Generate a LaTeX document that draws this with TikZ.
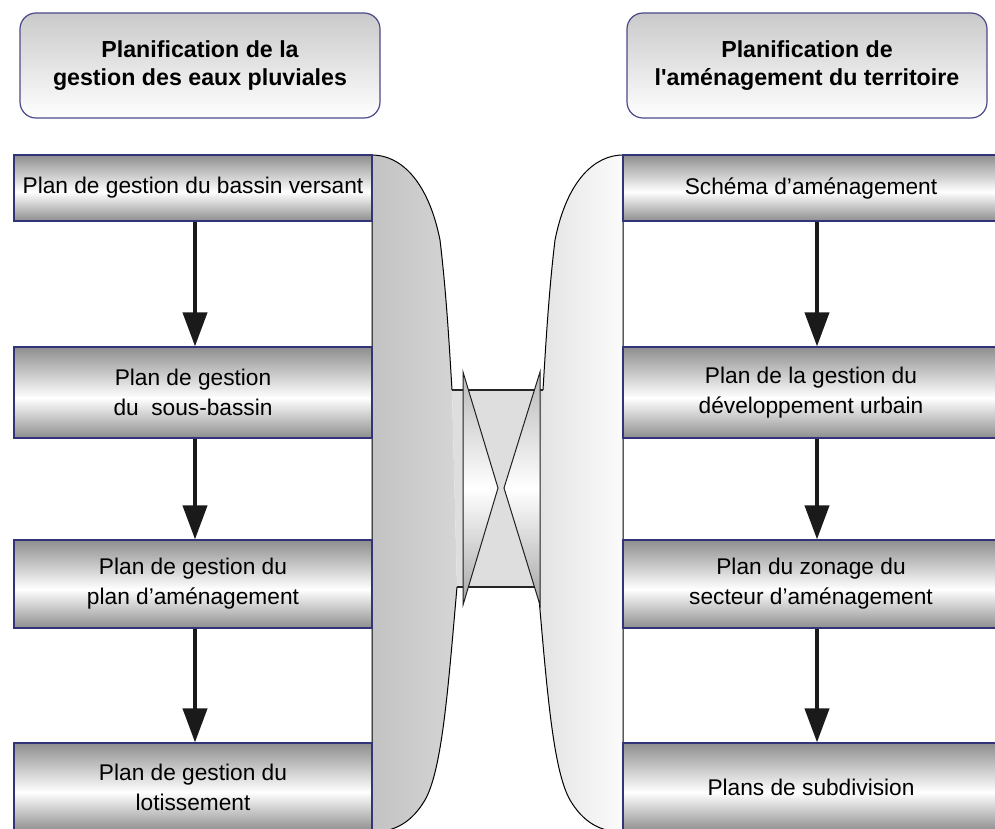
\documentclass[tikz,border=0pt]{standalone}
\usepackage{fontspec}
\setmainfont{Liberation Sans}
\usetikzlibrary{arrows.meta}
\definecolor{box frame}{HTML}{33337A}
\definecolor{head frame}{HTML}{4A4A8A}
\definecolor{tube gray}{HTML}{8E8E8E}
\definecolor{left panel a}{HTML}{C3C3C3}
\definecolor{left panel b}{HTML}{D5D5D5}
\definecolor{right panel a}{HTML}{E3E3E3}
\definecolor{right panel b}{HTML}{FBFBFB}
\definecolor{arrow black}{HTML}{1A1A1A}
\pgfdeclareverticalshading{my tube}{100bp}{color(0bp)=(tube gray); color(25bp)=(tube gray);
  color(47bp)=(white); color(75bp)=(tube gray); color(100bp)=(tube gray)}
\def\boxfont{\fontsize{11.35}{15}\selectfont}
\def\headfont{\fontsize{11.6}{14}\selectfont\bfseries}
\tikzset{
  my box/.style={draw=box frame,line width=0.6pt,shading=my tube,inner sep=0pt,
    align=center,font=\boxfont},
  my head/.style={draw=head frame,line width=0.6pt,rounded corners=8pt,top color=gray!42,
    bottom color=white,minimum width=180pt,minimum height=52.5pt,align=center,font=\headfont},
  my arrow/.style={line width=2pt,draw=arrow black,-{Triangle[length=17pt,width=12pt]}}
}

\begin{document}
\begin{tikzpicture}[x=0.5pt,y=-0.5pt]
\useasboundingbox (0,0) rectangle (995,829);
\clip (0,0) rectangle (995,829);
% side panels
\shade[left color=left panel a,right color=left panel b]
  (457,587) .. controls (448,690) and (442,770) .. (425,800)
  .. controls (412,822) and (395,832) .. (372,832) -- (372,155)
  .. controls (400,155) and (428,180) .. (440,240)
  .. controls (446,290) and (449,340) .. (452,390);
\draw[line width=0.5pt]
  (457,587) .. controls (448,690) and (442,770) .. (425,800)
  .. controls (412,822) and (395,832) .. (372,832) -- (372,155)
  .. controls (400,155) and (428,180) .. (440,240)
  .. controls (446,290) and (449,340) .. (452,390);
\shade[left color=right panel a,right color=right panel b]
  (538,587) .. controls (547,690) and (553,770) .. (570,800)
  .. controls (583,822) and (600,832) .. (623,832) -- (623,155)
  .. controls (595,155) and (567,180) .. (555,240)
  .. controls (549,290) and (546,340) .. (543,390);
\draw[line width=0.5pt]
  (538,587) .. controls (547,690) and (553,770) .. (570,800)
  .. controls (583,822) and (600,832) .. (623,832) -- (623,155)
  .. controls (595,155) and (567,180) .. (555,240)
  .. controls (549,290) and (546,340) .. (543,390);
% link
\fill[gray!26] (452,390) -- (543,390) -- (538,587) -- (457,587) -- cycle;
\draw[gray!30!black,line width=0.6pt] (452,390) -- (543,390) (457,587) -- (538,587);
\shadedraw[top color=gray!55,bottom color=gray!70,middle color=white,draw=gray!25!black,line width=0.5pt]
  (463,372) -- (498,488) -- (463,605) -- cycle;
\shadedraw[top color=gray!55,bottom color=gray!70,middle color=white,draw=gray!25!black,line width=0.5pt]
  (540,372) -- (504,488) -- (540,605) -- cycle;
% headers
\node[my head] (pluv) at (200,65.5) {Planification de la\\gestion des eaux pluviales};
\node[my head] (amen) at (807,65.5) {Planification de\\l\textquotesingle aménagement du territoire};
% left column
\node[my box,minimum width=179pt,minimum height=33pt]   (pg1) at (193,188)   {Plan de gestion du bassin versant};
\node[my box,minimum width=179pt,minimum height=45.5pt] (pg2) at (193,392.5) {Plan de gestion\\du~ sous-bassin};
\node[my box,minimum width=179pt,minimum height=44pt]   (pg3) at (193,584)   {Plan de gestion du\\plan d’aménagement};
\node[my box,minimum width=179pt,minimum height=44pt]   (pg4) at (193,787)   {Plan de gestion du\\lotissement};
% right column
\node[my box,minimum width=188pt,minimum height=33pt]   (am1) at (811,188)   {Schéma d’aménagement};
\node[my box,minimum width=188pt,minimum height=45.5pt] (am2) at (811,392.5) {Plan de la gestion du\\développement urbain};
\node[my box,minimum width=188pt,minimum height=44pt]   (am3) at (811,584)   {Plan du zonage du\\secteur d’aménagement};
\node[my box,minimum width=188pt,minimum height=44pt]   (am4) at (811,787)   {Plans de subdivision};
% arrows
\foreach\a/\b in {pg1/pg2,pg2/pg3,pg3/pg4}
  \draw[my arrow] ([xshift=1pt]\a.south) -- ([xshift=1pt]\b.north);
\foreach\a/\b in {am1/am2,am2/am3,am3/am4}
  \draw[my arrow] ([xshift=3pt]\a.south) -- ([xshift=3pt]\b.north);
\end{tikzpicture}
\end{document}
